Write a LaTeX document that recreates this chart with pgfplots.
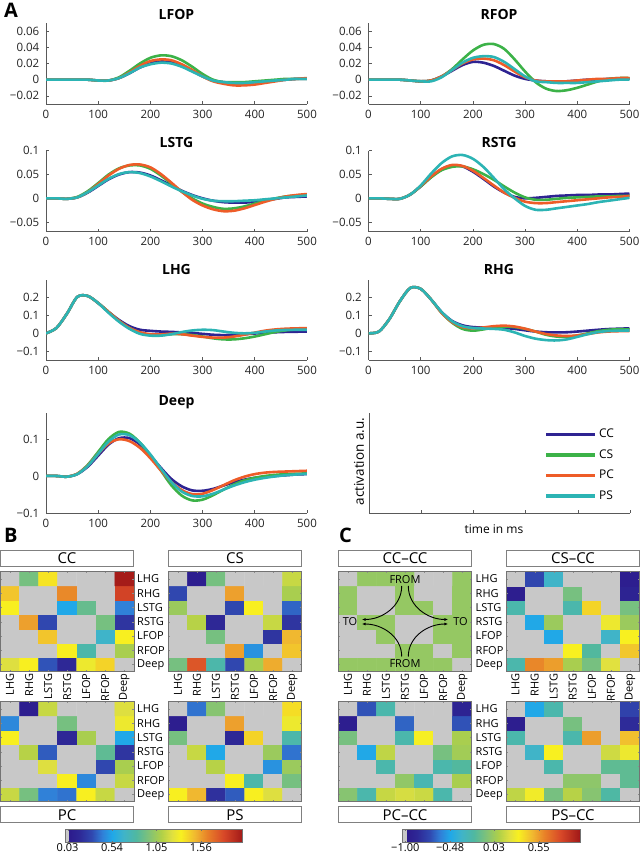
\documentclass[border=0pt]{standalone}
\usepackage{fontspec}
\setmainfont{Open Sans}
\usepackage{pgfplots}
\usepackage{pgfplotstable}
\pgfplotsset{compat=1.18}
\usetikzlibrary{arrows.meta}

\definecolor{ccc}{RGB}{46,35,146}
\definecolor{csc}{RGB}{60,178,72}
\definecolor{pcc}{RGB}{238,92,40}
\definecolor{psc}{RGB}{44,180,180}

\pgfplotsset{
  colormap={fmap}{
    rgb255(0pt)=(200,200,200); rgb255(18pt)=(200,200,200);
    rgb255(20pt)=(44,26,140); rgb255(80pt)=(46,40,150);
    rgb255(150pt)=(48,72,176); rgb255(210pt)=(48,128,216);
    rgb255(265pt)=(32,168,232); rgb255(330pt)=(64,180,200);
    rgb255(400pt)=(80,184,160); rgb255(470pt)=(128,194,120);
    rgb255(540pt)=(176,208,72); rgb255(600pt)=(224,224,64);
    rgb255(650pt)=(248,240,32); rgb255(730pt)=(240,184,48);
    rgb255(800pt)=(232,128,40); rgb255(890pt)=(216,72,40);
    rgb255(1000pt)=(160,24,24)
  },
  ts/.style={scale only axis, width=261pt, height=81pt,
    xmin=0, xmax=500, xtick={0,100,...,500}, scaled y ticks=false,
    axis lines=left, axis line style={-, draw=black!65, line width=0.6pt},
    tick style={draw=black!65, line width=0.6pt}, tick align=inside, major tick length=3pt,
    ticklabel style={font=\fontsize{11.5}{13}\selectfont, text=black!85, inner sep=1pt},
    xticklabel style={yshift=-4.5pt}, yticklabel style={xshift=-5.5pt},
    /pgf/number format/assume math mode=true,
    every axis title shift=0pt,
    title style={at={(0.5,1)}, anchor=base, font=\fontsize{14}{16}\selectfont\bfseries}},
  ln/.style={line width=2.6pt, smooth},
  mat/.style={scale only axis, width=133.4pt, height=100pt,
    xmin=-0.5, xmax=6.5, ymin=-0.5, ymax=6.5, enlargelimits=false,
    xtick={0,...,6}, ytick={0,...,6}, xticklabels={}, yticklabels={},
    tick align=inside, major tick length=1.5pt, tick style={draw=black!45},
    axis line style={draw=black!55, line width=0.6pt}, axis on top,
    colormap name=fmap},
  matB/.style={mat, point meta min=0, point meta max=2.04},
  matC/.style={mat, point meta min=-1.03, point meta max=1.03},
  xlab/.style={xticklabels={LHG,RHG,LSTG,RSTG,LFOP,RFOP,Deep},
    xticklabel style={rotate=90, anchor=east, inner sep=1.5pt, font=\fontsize{11}{12}\selectfont}},
  ylab/.style={yticklabels={Deep,RFOP,LFOP,RSTG,LSTG,RHG,LHG},
    yticklabel style={anchor=west, inner sep=1pt, xshift=#1, font=\fontsize{11}{12}\selectfont}},
  cbar/.style={scale only axis, height=13.4pt, ymin=0, ymax=1, ytick=\empty,
    enlargelimits=false, colormap name=fmap, axis on top,
    axis line style={draw=black!55, line width=0.6pt},
    tick align=inside, major tick length=2pt, tick style={draw=black!55},
    ticklabel style={font=\fontsize{11}{13}\selectfont, inner sep=1pt}},
}

% rows are listed bottom to top: Deep, RFOP, LFOP, RSTG, LSTG, RHG, LHG
\newcommand{\mat}[1]{\addplot[matrix plot*, mesh/cols=7, point meta=explicit]
  table[row sep=\\, x expr={\coordindex-7*floor((\coordindex+0.5)/7)},
        y expr={floor((\coordindex+0.5)/7)}, meta=v] {v\\ #1};}

\pgfplotstableread{
t cc cs pc ps
0 0 0 0 0
20 0 0 0 0
40 0 0 0 0
60 0 0 0 0
80 0 0 0 0
100 -0.001 -0.001 -0.001 -0.001
120 -0.001 -0.001 -0.001 -0.001
140 0.002 0.003 0.002 0.002
160 0.008 0.011 0.009 0.008
180 0.015 0.020 0.017 0.015
200 0.020 0.027 0.023 0.019
220 0.023 0.030 0.025 0.021
240 0.022 0.029 0.024 0.020
260 0.018 0.024 0.019 0.016
280 0.011 0.016 0.012 0.010
300 0.004 0.007 0.004 0.004
320 -0.001 0.000 -0.002 -0.001
340 -0.003 -0.003 -0.005 -0.003
360 -0.004 -0.003 -0.007 -0.004
380 -0.004 -0.003 -0.007 -0.004
400 -0.003 -0.002 -0.006 -0.003
420 -0.002 -0.001 -0.004 -0.002
440 -0.001 0 -0.002 -0.001
460 0 0.001 0 0
480 0.001 0.001 0.001 0.001
500 0.001 0.001 0.002 0.001
}\lfop

\pgfplotstableread{
t cc cs pc ps
0 0 0 0 0
20 0 0 0 0
40 0 0 0 0
60 0 0 0 0
80 -0.001 -0.001 -0.001 -0.001
100 -0.002 -0.002 -0.002 -0.002
120 -0.001 -0.001 -0.001 -0.002
140 0.004 0.004 0.004 0.003
160 0.011 0.013 0.012 0.012
180 0.018 0.025 0.020 0.021
200 0.022 0.036 0.025 0.027
220 0.021 0.043 0.026 0.029
240 0.017 0.044 0.024 0.028
260 0.011 0.038 0.018 0.022
280 0.005 0.025 0.010 0.013
300 0.001 0.010 0.003 0.004
320 -0.001 -0.003 -0.001 -0.002
340 -0.002 -0.011 -0.002 -0.003
360 -0.002 -0.014 -0.002 -0.004
380 -0.002 -0.013 -0.002 -0.004
400 -0.001 -0.010 -0.001 -0.004
420 0 -0.006 0 -0.003
440 0 -0.002 0.001 -0.002
460 0.001 0.001 0.001 -0.001
480 0.001 0.002 0.002 0
500 0.001 0.002 0.002 0
}\rfop

\pgfplotstableread{
t cc cs pc ps
0 0 0 0 0
20 0 0 0 0
40 -0.001 -0.001 -0.001 -0.001
60 0.002 0.003 0.002 0.002
80 0.012 0.015 0.013 0.013
100 0.026 0.032 0.030 0.027
120 0.040 0.050 0.048 0.041
140 0.050 0.063 0.062 0.051
160 0.055 0.069 0.070 0.055
180 0.054 0.069 0.071 0.053
200 0.048 0.062 0.065 0.046
220 0.038 0.048 0.051 0.036
240 0.027 0.031 0.033 0.025
260 0.016 0.014 0.014 0.015
280 0.007 0.000 -0.003 0.006
300 0.000 -0.011 -0.015 -0.001
320 -0.005 -0.018 -0.023 -0.005
340 -0.008 -0.022 -0.027 -0.006
360 -0.009 -0.021 -0.026 -0.006
380 -0.009 -0.017 -0.021 -0.005
400 -0.007 -0.011 -0.014 -0.004
420 -0.004 -0.005 -0.007 -0.002
440 -0.001 0 -0.001 0
460 0.002 0.004 0.004 0.002
480 0.003 0.006 0.007 0.004
500 0.004 0.008 0.009 0.006
}\lstg

\pgfplotstableread{
t cc cs pc ps
0 0 0 0 0
20 0 0 0 0
40 -0.001 -0.001 -0.001 -0.001
60 -0.001 -0.001 -0.001 -0.001
80 0.008 0.008 0.008 0.008
100 0.025 0.025 0.026 0.027
120 0.045 0.044 0.046 0.052
140 0.061 0.059 0.062 0.074
160 0.069 0.066 0.070 0.088
180 0.067 0.067 0.068 0.091
200 0.056 0.061 0.058 0.083
220 0.041 0.051 0.043 0.066
240 0.025 0.039 0.027 0.043
260 0.012 0.025 0.012 0.019
280 0.003 0.012 0.001 0.000
300 0.000 0.002 -0.007 -0.016
320 0.001 -0.003 -0.010 -0.024
340 0.003 -0.003 -0.010 -0.024
360 0.005 -0.001 -0.008 -0.021
380 0.006 0.001 -0.006 -0.018
400 0.007 0.002 -0.004 -0.015
420 0.007 0.003 -0.002 -0.012
440 0.008 0.004 0 -0.008
460 0.008 0.004 0.002 -0.005
480 0.009 0.005 0.003 -0.002
500 0.010 0.005 0.005 0.001
}\rstg

\pgfplotstableread{
t cc cs pc ps
0 0 0 0 0
20 0.03 0.03 0.03 0.03
40 0.11 0.11 0.11 0.11
60 0.205 0.205 0.205 0.205
80 0.21 0.21 0.21 0.21
100 0.17 0.17 0.17 0.17
120 0.12 0.12 0.12 0.115
140 0.075 0.07 0.07 0.065
160 0.04 0.03 0.03 0.025
180 0.02 0.004 0.006 -0.003
200 0.014 -0.009 -0.005 -0.013
220 0.01 -0.01 -0.006 -0.013
240 0.008 -0.005 -0.002 -0.005
260 0.005 -0.005 -0.005 0.007
280 0.002 -0.01 -0.013 0.016
300 -0.003 -0.018 -0.02 0.02
320 -0.008 -0.028 -0.024 0.018
340 -0.01 -0.034 -0.024 0.01
360 -0.008 -0.034 -0.018 0.003
380 -0.005 -0.028 -0.008 0.0
400 -0.001 -0.018 0.004 0.003
420 0.003 -0.005 0.015 0.01
440 0.006 0.008 0.022 0.016
460 0.008 0.017 0.026 0.019
480 0.009 0.022 0.028 0.02
500 0.01 0.025 0.029 0.02
}\lhg

\pgfplotstableread{
t cc cs pc ps
0 0 0 0 0
20 0.01 0.01 0.01 0.01
40 0.08 0.08 0.08 0.08
60 0.18 0.18 0.18 0.18
80 0.255 0.255 0.255 0.255
100 0.25 0.25 0.25 0.25
120 0.19 0.19 0.19 0.19
140 0.12 0.115 0.115 0.12
160 0.07 0.06 0.063 0.068
180 0.045 0.025 0.035 0.04
200 0.035 0.015 0.028 0.03
220 0.033 0.022 0.033 0.027
240 0.032 0.032 0.04 0.025
260 0.03 0.037 0.043 0.02
280 0.025 0.035 0.038 0.005
300 0.017 0.025 0.026 -0.015
320 0.01 0.01 0.01 -0.03
340 0.006 -0.008 -0.004 -0.038
360 0.005 -0.018 -0.012 -0.04
380 0.006 -0.02 -0.015 -0.034
400 0.01 -0.012 -0.012 -0.02
420 0.015 0.0 -0.004 -0.005
440 0.02 0.012 0.005 0.007
460 0.024 0.02 0.01 0.013
480 0.026 0.023 0.012 0.015
500 0.028 0.022 0.012 0.016
}\rhg

\pgfplotstableread{
t cc cs pc ps
0 0 0 0 0
20 0 0 0 0
40 -0.002 -0.002 -0.002 -0.002
60 0.005 0.006 0.006 0.005
80 0.025 0.03 0.028 0.027
100 0.055 0.065 0.06 0.06
120 0.085 0.1 0.088 0.093
140 0.102 0.119 0.099 0.112
160 0.102 0.114 0.094 0.11
180 0.085 0.09 0.076 0.09
200 0.055 0.055 0.048 0.058
220 0.022 0.015 0.015 0.02
240 -0.008 -0.025 -0.016 -0.016
260 -0.028 -0.053 -0.038 -0.042
280 -0.039 -0.066 -0.049 -0.054
300 -0.04 -0.064 -0.048 -0.055
320 -0.035 -0.052 -0.038 -0.048
340 -0.026 -0.037 -0.025 -0.037
360 -0.017 -0.023 -0.012 -0.026
380 -0.01 -0.012 -0.002 -0.017
400 -0.005 -0.005 0.005 -0.01
420 -0.002 0 0.009 -0.005
440 0.0 0.003 0.011 -0.001
460 0.002 0.005 0.012 0.002
480 0.004 0.006 0.013 0.004
500 0.005 0.007 0.014 0.006
}\deep

\newcommand{\curves}[1]{%
  \addplot[ccc, ln] table[x=t, y=cc] {#1};
  \addplot[csc, ln] table[x=t, y=cs] {#1};
  \addplot[pcc, ln] table[x=t, y=pc] {#1};
  \addplot[psc, ln] table[x=t, y=ps] {#1};}

\begin{document}
\begin{tikzpicture}
\path[use as bounding box] (0pt,0pt) rectangle (640pt,853pt);

% ---------- panel A ----------
\begin{axis}[ts, at={(46pt,749pt)}, anchor=south west, ymin=-0.03, ymax=0.07,
  ytick={-0.02,0,0.02,0.04,0.06}, yticklabels={−0.02,0,0.02,0.04,0.06},
  title=LFOP, title style={yshift=3.5pt}]
\curves{\lfop}
\end{axis}
\begin{axis}[ts, at={(368.5pt,749pt)}, anchor=south west, ymin=-0.03, ymax=0.07,
  ytick={-0.02,0,0.02,0.04,0.06}, yticklabels={−0.02,0,0.02,0.04,0.06},
  title=RFOP, title style={yshift=3.5pt}]
\curves{\rfop}
\end{axis}
\begin{axis}[ts, at={(46pt,621.3pt)}, anchor=south west, ymin=-0.07, ymax=0.1,
  ytick={-0.05,0,0.05,0.1}, yticklabels={−0.05,0,0.05,0.1},
  title=LSTG, title style={yshift=3pt}]
\curves{\lstg}
\end{axis}
\begin{axis}[ts, at={(368.5pt,621.3pt)}, anchor=south west, ymin=-0.07, ymax=0.1,
  ytick={-0.05,0,0.05,0.1}, yticklabels={−0.05,0,0.05,0.1},
  title=RSTG, title style={yshift=3pt}]
\curves{\rstg}
\end{axis}
\begin{axis}[ts, at={(46pt,493pt)}, anchor=south west, height=80pt, ymin=-0.15, ymax=0.3,
  ytick={-0.1,0,0.1,0.2}, yticklabels={−0.1,0,0.1,0.2},
  title=LHG, title style={yshift=5.5pt}]
\curves{\lhg}
\end{axis}
\begin{axis}[ts, at={(368.5pt,493pt)}, anchor=south west, height=80pt, ymin=-0.15, ymax=0.3,
  ytick={-0.1,0,0.1,0.2}, yticklabels={−0.1,0,0.1,0.2},
  title=RHG, title style={yshift=5.5pt}]
\curves{\rhg}
\end{axis}
\begin{axis}[ts, at={(46pt,340pt)}, anchor=south west, height=100pt, ymin=-0.1, ymax=0.17,
  ytick={-0.1,0,0.1}, yticklabels={−0.1,0,0.1},
  title=Deep, title style={yshift=7pt}]
\curves{\deep}
\end{axis}
\begin{axis}[ts, at={(369pt,340pt)}, anchor=south west, height=100pt, ymin=0, ymax=1,
  xticklabels={}, ytick=\empty,
  xlabel={time in ms}, ylabel={activation a.u.},
  xlabel style={at={(axis description cs:0.479,-0.158)}, anchor=center, font=\fontsize{12}{14}\selectfont},
  ylabel style={at={(axis description cs:-0.038,0.515)}, anchor=center, font=\fontsize{13.5}{15}\selectfont},
  legend style={at={(0.66,0.88)}, anchor=north west, draw=none, fill=none,
    font=\fontsize{12}{14}\selectfont, row sep=6pt,
    nodes={inner sep=2pt, text height=8.5pt, text depth=2pt}},
  legend cell align=left,
  legend image code/.code={\draw[#1, line width=3.6pt] (0pt,0pt) -- (49pt,0pt);}]
\addlegendimage{ccc}
\addlegendimage{csc}
\addlegendimage{pcc}
\addlegendimage{psc}
\legend{CC,CS,PC,PS}
\end{axis}

% ---------- panel B ----------
\begin{axis}[matB, xlab, at={(0.5pt,181.3pt)}, anchor=south west]
\mat{1.22\\1.33\\0.33\\0.16\\1.28\\1.41\\0\\
0\\0\\0\\1.33\\0.78\\0\\1.08\\
0\\0\\1.45\\0\\0\\0.67\\1.33\\
0\\1.55\\0.30\\0\\0\\0.93\\0.22\\
1.33\\0\\0\\0.54\\0.88\\0\\0.43\\
1.45\\0\\0\\1.61\\0\\0\\1.84\\
0\\0.93\\1.36\\0\\0\\0\\2.02\\}
\end{axis}
\begin{axis}[matB, xlab, ylab=-32.3pt, at={(168.3pt,181.3pt)}, anchor=south west]
\mat{0.93\\1.77\\0.78\\0.30\\1.08\\1.52\\0\\
0\\0\\0\\1.55\\0.48\\0\\1.45\\
0\\0\\0.93\\0\\0\\0.22\\1.49\\
0\\1.12\\0.16\\0\\0\\1.16\\0.22\\
1.04\\0\\0\\0.30\\1.33\\0\\0.37\\
0.30\\0\\0\\1.55\\0\\0\\1.08\\
0\\0.08\\0.93\\0\\0\\0\\1.16\\}
\end{axis}
\begin{axis}[matB, at={(0.5pt,51.3pt)}, anchor=south west]
\mat{1.16\\0.93\\0.43\\0.40\\1.33\\1.16\\0\\
0\\0\\0\\1.33\\0.45\\0\\1.16\\
0\\0\\1.22\\0\\0\\0.30\\1.08\\
0\\1.12\\0.35\\0\\0\\0.86\\0.22\\
1.33\\0\\0\\0.16\\1.08\\0\\0.54\\
0.45\\0\\0\\0.93\\0\\0\\1.28\\
0\\0.08\\1.16\\0\\0\\0\\1.22\\}
\end{axis}
\begin{axis}[matB, ylab=-32.3pt, at={(168.3pt,51.3pt)}, anchor=south west]
\mat{1.33\\1.49\\0.20\\0.35\\1.33\\1.22\\0\\
0\\0\\0\\1.33\\0.78\\0\\0.93\\
0\\0\\1.12\\0\\0\\0.48\\1.04\\
0\\1.16\\0.54\\0\\0\\1.04\\0.40\\
0.93\\0\\0\\0.16\\1.41\\0\\0.78\\
0.08\\0\\0\\1.55\\0\\0\\1.28\\
0\\0.40\\0.98\\0\\0\\0\\1.38\\}
\end{axis}
\begin{axis}[cbar, at={(65pt,10.3pt)}, anchor=south west, width=177.7pt,
  xmin=0, xmax=2.04, point meta min=0, point meta max=2.04,
  xtick={0.03,0.54,1.05,1.56}, xticklabels={0.03,0.54,1.05,1.56}]
\addplot[surf, shader=interp, point meta=x] coordinates {(0,0) (2.04,0)

(0,1) (2.04,1)};
\end{axis}

% ---------- panel C ----------
\begin{axis}[matC, xlab, at={(338.3pt,181.3pt)}, anchor=south west]
\mat{0\\0\\0\\0\\0\\0\\-1.03\\
-1.03\\-1.03\\-1.03\\0\\0\\-1.03\\0\\
-1.03\\-1.03\\0\\-1.03\\-1.03\\0\\0\\
-1.03\\0\\0\\-1.03\\-1.03\\0\\0\\
0\\-1.03\\-1.03\\0\\0\\-1.03\\0\\
0\\-1.03\\-1.03\\0\\-1.03\\-1.03\\0\\
-1.03\\0\\0\\0\\-1.03\\-1.03\\0\\}
\end{axis}
\begin{axis}[matC, xlab, ylab=-31.5pt, at={(506pt,181.3pt)}, anchor=south west, width=133.5pt]
\mat{-0.25\\0.60\\0.54\\0.06\\-0.09\\0.21\\-1.03\\
-1.03\\-1.03\\-1.03\\0.31\\-0.20\\-1.03\\0.43\\
-1.03\\-1.03\\-0.48\\-1.03\\-1.03\\-0.35\\0.31\\
-1.03\\-0.48\\0.02\\-1.03\\-1.03\\0.26\\0.02\\
-0.25\\-1.03\\-1.03\\-0.25\\0.39\\-1.03\\-0.09\\
-0.95\\-1.03\\-1.03\\-0.09\\-1.03\\-1.03\\-0.91\\
-1.03\\-0.73\\-0.35\\-1.03\\-1.03\\-1.03\\-0.95\\}
\end{axis}
\begin{axis}[matC, at={(338.3pt,51.3pt)}, anchor=south west]
\mat{-0.04\\-0.25\\0.14\\0.18\\0.15\\-0.25\\-1.03\\
-1.03\\-1.03\\-1.03\\-0.01\\-0.27\\-1.03\\0.06\\
-1.03\\-1.03\\-0.25\\-1.03\\-1.03\\-0.25\\-0.20\\
-1.03\\-0.48\\0.12\\-1.03\\-1.03\\-0.09\\0.04\\
-0.09\\-1.03\\-1.03\\-0.25\\0.30\\-1.03\\0.06\\
-0.95\\-1.03\\-1.03\\-0.66\\-1.03\\-1.03\\-0.70\\
-1.03\\-0.70\\-0.25\\-1.03\\-1.03\\-1.03\\-0.91\\}
\end{axis}
\begin{axis}[matC, ylab=-31.5pt, at={(506pt,51.3pt)}, anchor=south west, width=133.5pt]
\mat{0.12\\0.28\\-0.09\\0.10\\-0.04\\-0.22\\-1.03\\
-1.03\\-1.03\\-1.03\\-0.02\\-0.02\\-1.03\\-0.16\\
-1.03\\-1.03\\-0.25\\-1.03\\-1.03\\-0.16\\-0.16\\
-1.03\\-0.35\\0.31\\-1.03\\-1.03\\0.16\\0.26\\
-0.25\\-1.03\\-1.03\\-0.25\\0.54\\-1.03\\0.45\\
-0.95\\-1.03\\-1.03\\-0.09\\-1.03\\-1.03\\-0.85\\
-1.03\\-0.48\\-0.25\\-1.03\\-1.03\\-1.03\\-0.75\\}
\end{axis}
\begin{axis}[cbar, at={(402.7pt,10.3pt)}, anchor=south west, width=177.3pt,
  xmin=-1.03, xmax=1.03, point meta min=-1.03, point meta max=1.03,
  xtick={-1,-0.48,0.03,0.55}, xticklabels={−1.00,−0.48,0.03,0.55}]
\addplot[surf, shader=interp, point meta=x] coordinates {(-1.03,0) (1.03,0)

(-1.03,1) (1.03,1)};
\end{axis}

% ---------- panel letters, title boxes, annotations ----------
\node[anchor=base west, font=\fontsize{20}{22}\selectfont\bfseries] at (0.5pt,835pt) {A};
\node[anchor=base west, font=\fontsize{20}{22}\selectfont\bfseries] at (0.5pt,310pt) {B};
\node[anchor=base west, font=\fontsize{20}{22}\selectfont\bfseries] at (335.5pt,310pt) {C};

\begin{scope}[every node/.style={font=\fontsize{15}{17}\selectfont}]
\draw[black!50, line width=0.8pt, fill=white] (0.6pt,287pt) rectangle (133.3pt,302.3pt);
\node at (67pt,294.6pt) {CC};
\draw[black!50, line width=0.8pt, fill=white] (168.3pt,287pt) rectangle (301.7pt,302.3pt);
\node at (235pt,294.6pt) {CS};
\draw[black!50, line width=0.8pt, fill=white] (0.6pt,30.3pt) rectangle (133.3pt,46.3pt);
\node at (67pt,38.3pt) {PC};
\draw[black!50, line width=0.8pt, fill=white] (168.3pt,30.3pt) rectangle (301.7pt,46.3pt);
\node at (235pt,38.3pt) {PS};
\draw[black!50, line width=0.8pt, fill=white] (338.3pt,287pt) rectangle (471.7pt,302.3pt);
\node at (405pt,294.6pt) {CC–CC};
\draw[black!50, line width=0.8pt, fill=white] (506.7pt,287pt) rectangle (639.4pt,302.3pt);
\node at (573pt,294.6pt) {CS–CC};
\draw[black!50, line width=0.8pt, fill=white] (338.3pt,30.3pt) rectangle (471.7pt,46.3pt);
\node at (405pt,38.3pt) {PC–CC};
\draw[black!50, line width=0.8pt, fill=white] (506.7pt,30.3pt) rectangle (639.4pt,46.3pt);
\node at (573pt,38.3pt) {PS–CC};
\end{scope}

\begin{scope}[every node/.style={font=\fontsize{11}{13}\selectfont, inner sep=1pt}]
\node at (405pt,273pt) {FROM};
\node at (405pt,189pt) {FROM};
\node at (350pt,231pt) {TO};
\node at (460.5pt,231pt) {TO};
\end{scope}
\begin{scope}[line width=0.9pt, -{Latex[length=4pt,width=3pt]}]
\draw (401.7pt,267pt) to[out=-90,in=0] (361.7pt,233.5pt);
\draw (408.3pt,267pt) to[out=-90,in=180] (448.3pt,233.5pt);
\draw (401.7pt,196.5pt) to[out=90,in=0] (361.7pt,229pt);
\draw (408.3pt,196.5pt) to[out=90,in=180] (448.3pt,229pt);
\end{scope}
\end{tikzpicture}
\end{document}
